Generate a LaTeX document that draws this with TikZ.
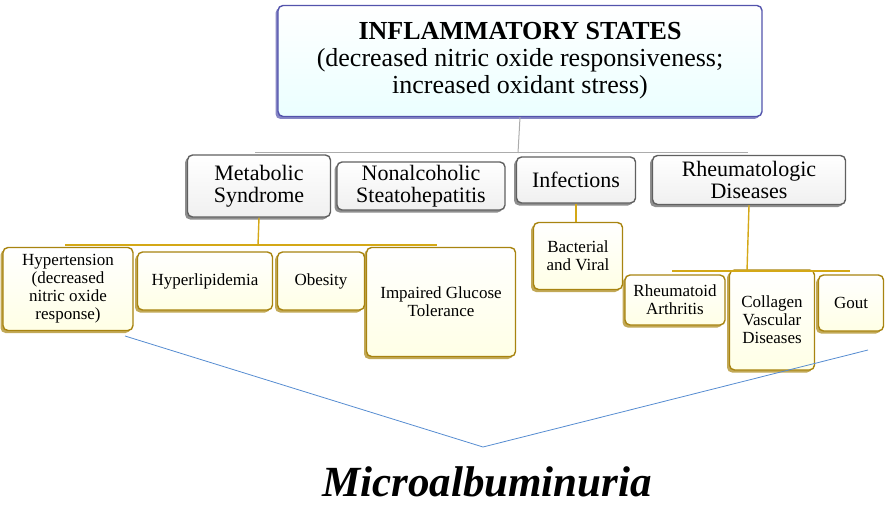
\documentclass[tikz,border=0pt]{standalone}
\usepackage{fontspec}
\setmainfont{Liberation Serif}
\usetikzlibrary{shadows}
\definecolor{gold}{HTML}{D4A817}
\definecolor{goldd}{HTML}{A88410}
\begin{document}
\begin{tikzpicture}[x=1pt,y=-1pt,
  box/.style={draw=#1,line width=1.4pt,rounded corners=5pt,align=center,inner sep=0pt,
    drop shadow={shadow xshift=-2.5pt,shadow yshift=-2.5pt,fill=#1,opacity=0.7}},
  gbox/.style={box=gray!75!black,top color=white,bottom color=gray!12,font=\fontsize{22}{22}\selectfont},
  ybox/.style={box=goldd,top color=white,bottom color=yellow!10,font=\fontsize{17}{18}\selectfont},
  gline/.style={draw=gray!65,line width=1pt},
  yline/.style={draw=gold,line width=1.4pt},
  bline/.style={draw=cyan!50!blue!70,line width=0.8pt}]
\useasboundingbox (0,0) rectangle (885,505);
\node[box=blue!35!gray,top color=white,bottom color=cyan!8,minimum width=484,minimum height=111,font=\fontsize{26}{27}\selectfont] (top) at (520,61)
  {\textbf{INFLAMMATORY STATES}\\(decreased nitric oxide responsiveness;\\increased oxidant stress)};
\node[gbox,minimum width=143,minimum height=62] (met) at (259,186) {Metabolic\\Syndrome};
\node[gbox,minimum width=168,minimum height=48] (nas) at (421,186) {Nonalcoholic\\Steatohepatitis};
\node[gbox,minimum width=119,minimum height=46] (inf) at (576,180) {Infections};
\node[gbox,minimum width=193,minimum height=49] (rhe) at (749,180) {Rheumatologic\\Diseases};
\coordinate (j1) at (518,153);
\draw[gline] (top.south) -- (j1);
\draw[gline] (255,153) -- (748,153);
\node[ybox,minimum width=130,minimum height=83] (hyp) at (68,289) {Hypertension\\(decreased\\nitric oxide\\response)};
\node[ybox,minimum width=135,minimum height=58] (lip) at (205,281) {Hyperlipidemia};
\node[ybox,minimum width=87,minimum height=58] (obe) at (321,281) {Obesity};
\node[ybox,minimum width=149,minimum height=109] (glu) at (441,302) {Impaired Glucose\\Tolerance};
\coordinate (j2) at (258,245);
\draw[yline] (met.south) -- (j2);
\draw[yline] (65,245) -- (437,245);
\node[ybox,minimum width=89,minimum height=67] (bac) at (578,256) {Bacterial\\and Viral};
\draw[yline] (inf.south) -- (bac.north -| inf.south);
\node[ybox,minimum width=100,minimum height=50] (ra) at (675,300) {Rheumatoid\\Arthritis};
\node[ybox,minimum width=85,minimum height=100] (cvd) at (772,320) {Collagen\\Vascular\\Diseases};
\node[ybox,minimum width=65,minimum height=56] (gout) at (851,303) {Gout};
\coordinate (j3) at (747,271);
\draw[yline] (rhe.south) -- (j3);
\draw[yline] (672,271) -- (850,271);
\coordinate (ml) at (125,336);
\coordinate (mv) at (483,447);
\coordinate (mr) at (868,350);
\draw[bline] (ml) -- (mv) -- (mr);
\node[font=\fontsize{43}{43}\selectfont\bfseries\itshape,inner sep=0pt] (micro) at (487,482) {Microalbuminuria};
\end{tikzpicture}
\end{document}
